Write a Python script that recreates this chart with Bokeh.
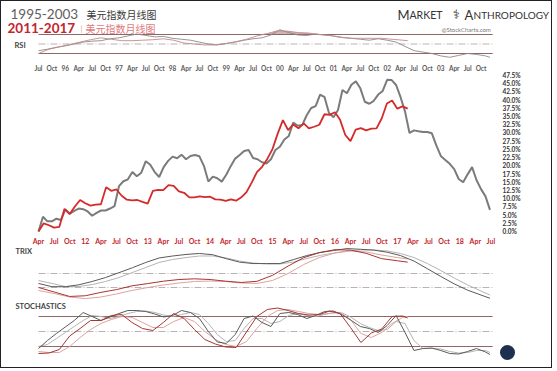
from bokeh.plotting import figure
from bokeh.models import Range1d, LinearAxis, FixedTicker, PrintfTickFormatter
from bokeh.layouts import column
from bokeh.embed import file_html
from bokeh.resources import INLINE
from bokeh.core.properties import value

# ---------------- data ----------------
GRAY_START = 1995.5    # Jul 1995 (1995-2003 cycle, gray)
RED_START = 2011.25    # Apr 2011 (2011-2017 cycle, red)

gray_pct = [0, 4.5, 3.1, 3.1, 3.9, 3.5, 6.7, 5.4, 6.3, 7.0,
            6.8, 6.1, 4.8, 5.7, 6.4, 6.4, 7.0, 7.7, 13.8, 15.3,
            15.9, 18.1, 16.8, 17.9, 21.4, 20.3, 18.1, 16.6, 19.6, 21.5,
            22.8, 22.3, 23.4, 22.0, 23.0, 23.3, 22.9, 20.0, 15.2, 16.7,
            16.2, 15.2, 17.3, 19.9, 22.2, 23.3, 24.5, 24.8, 22.4, 22.0,
            21.1, 20.7, 22.0, 24.8, 25.8, 28.0, 29.1, 33.2, 32.2, 32.4,
            35.4, 37.6, 38.2, 41.7, 40.9, 36.0, 34.8, 37.0, 43.1, 42.1,
            44.7, 45.7, 43.6, 39.5, 38.9, 39.8, 41.7, 42.8, 46.2, 46.1,
            44.6, 40.9, 36.5, 30.0, 30.8, 30.5, 30.3, 30.3, 29.9, 26.2,
            23.0, 21.8, 20.6, 19.0, 16.0, 15.0, 17.4, 19.6, 15.6, 12.9,
            10.7, 6.6]

red_pct = [0, 2.5, 1.9, 1.2, 1.4, 6.9, 5.3, 7.6, 9.6, 8.6,
           7.9, 8.2, 8.3, 13.5, 12.4, 12.8, 10.9, 9.7, 9.5, 9.6,
           9.0, 8.5, 12.4, 12.7, 12.6, 14.1, 13.9, 12.2, 11.8, 10.4,
           10.4, 10.7, 10.5, 10.6, 9.8, 9.7, 9.3, 9.8, 9.4, 10.4,
           12.0, 14.9, 18.1, 19.7, 22.1, 25.1, 29.8, 33.9, 30.9, 32.6,
           31.4, 32.9, 31.4, 31.9, 32.5, 35.7, 35.5, 36.3, 34.0, 29.4,
           27.5, 31.0, 31.5, 30.8, 31.3, 31.4, 34.4, 39.0, 39.9, 37.4,
           38.1, 37.4]

# sample months (offset from each cycle start) of the indicator readings
gray_q_months = list(range(0, 100, 3)) + [101]
red_q_months = list(range(0, 70, 3)) + [71]
gray_b_months = list(range(0, 101, 2)) + [101]
red_b_months = list(range(0, 71, 2)) + [71]

trix_gray = [-0.71, -0.94, -0.94, -0.81, -0.57, -0.29, 0.06, 0.41, 0.79, 1.11,
             1.25, 1.36, 1.43, 1.34, 1.06, 0.81, 0.71, 0.71, 0.71, 0.99,
             1.28, 1.5, 1.64, 1.78, 1.73, 1.67, 1.52, 1.28, 0.89, 0.34,
             -0.21, -0.74, -1.19, -1.54, -1.77]
trix_gray_sig = [-0.5, -0.71, -0.93, -0.93, -0.79, -0.57, -0.29, 0.07, 0.43, 0.79,
                 1.0, 1.14, 1.25, 1.25, 1.11, 0.89, 0.75, 0.68, 0.68, 0.82,
                 1.07, 1.29, 1.46, 1.61, 1.68, 1.68, 1.61, 1.43, 1.14, 0.71,
                 0.21, -0.32, -0.82, -1.25, -1.54]
trix_red = [-1.0, -1.32, -1.64, -1.59, -1.35, -1.15, -0.88, -0.72, -0.55, -0.43,
            -0.38, -0.43, -0.55, -0.64, -0.56, -0.13, 0.53, 1.13, 1.49, 1.7,
            1.67, 1.44, 1.06, 0.91, 0.81]
trix_red_sig = [-1.21, -1.43, -1.68, -1.79, -1.68, -1.46, -1.21, -1.0, -0.82, -0.68,
                -0.57, -0.54, -0.57, -0.68, -0.71, -0.5, 0.0, 0.64, 1.14, 1.46,
                1.61, 1.54, 1.32, 1.14, 1.04]

stoch_gray = [16, 32, 46, 59, 72, 88, 80, 72, 79, 86,
              92, 92, 90, 85, 79, 82, 92, 88, 76, 50,
              29, 26, 44, 76, 81, 68, 60, 86, 88, 84,
              76, 82, 90, 91, 83, 72, 60, 56, 48, 62,
              82, 48, 12, 16, 17, 12, 6, 5, 10, 16,
              9, 4]
stoch_gray_sig = [20, 24, 36, 48, 60, 72, 82, 80, 76, 80,
                  86, 90, 91, 88, 83, 80, 84, 88, 84, 66,
                  44, 30, 32, 56, 76, 76, 66, 70, 82, 86,
                  82, 80, 84, 88, 87, 78, 66, 58, 52, 54,
                  70, 66, 32, 16, 16, 15, 10, 7, 8, 12,
                  12, 8]
stoch_red = [6, 7, 14, 41, 56, 72, 72, 82, 84, 68,
             56, 52, 68, 86, 76, 54, 34, 25, 19, 18,
             49, 80, 94, 97, 92, 86, 83, 84, 91, 86,
             58, 28, 47, 55, 80, 81, 77]
stoch_red_sig = [10, 8, 8, 20, 38, 54, 66, 74, 80, 78,
                 68, 58, 58, 70, 78, 70, 50, 34, 24, 20,
                 30, 56, 80, 92, 94, 90, 86, 84, 86, 88,
                 74, 46, 38, 48, 66, 78, 80]

rsi_gray = [36, 39, 43, 46, 50, 54, 56, 57, 61, 63,
            67, 71, 68, 65, 66, 62, 60, 58, 54, 50,
            48, 51, 54, 58, 61, 63, 69, 80, 74, 69,
            68, 71, 69, 67, 64, 62, 60, 58, 61, 58,
            54, 45, 36, 33, 30, 25, 22, 26, 30, 28,
            25, 22]
rsi_red = [30, 39, 44, 49, 54, 59, 63, 60, 57, 57,
           58, 59, 61, 58, 52, 50, 48, 48, 51, 55,
           60, 67, 72, 78, 77, 74, 73, 70, 68, 64,
           62, 62, 62, 62, 60, 58, 57]

rsi_levels = [70, 50, 30]
trix_levels = [0, -1]
stoch_levels = [80, 50, 20]

pct_ticks = [0.0, 2.5, 5.0, 7.5, 10.0, 12.5, 15.0, 17.5, 20.0, 22.5,
             25.0, 27.5, 30.0, 32.5, 35.0, 37.5, 40.0, 42.5, 45.0, 47.5]
top_labels = ["Jul", "Oct", "96", "Apr", "Jul", "Oct", "97", "Apr", "Jul", "Oct",
              "98", "Apr", "Jul", "Oct", "99", "Apr", "Jul", "Oct", "00", "Apr",
              "Jul", "Oct", "01", "Apr", "Jul", "Oct", "02", "Apr", "Jul", "Oct",
              "03", "Apr", "Jul", "Oct"]
bottom_labels = ["Apr", "Jul", "Oct", "12", "Apr", "Jul", "Oct", "13", "Apr", "Jul",
                 "Oct", "14", "Apr", "Jul", "Oct", "15", "Apr", "Jul", "Oct", "16",
                 "Apr", "Jul", "Oct", "17", "Apr", "Jul", "Oct", "18", "Apr", "Jul"]

# ---------------- geometry helpers (page pixel coordinates) ----------------
ANCHOR_PX = 38          # page x of the first month of both cycles
GRAY_PPY = 53.64        # page px per year, gray cycle
RED_PPY = 62.4          # page px per year, red cycle
LEFT, RIGHT = 1, 551    # page x of figure edges (inside a 1px border)
W = RIGHT - LEFT
FRAME_R = 495           # right edge of the price frame


def trange(anchor, ppy, left, right):
    return Range1d(anchor - (ANCHOR_PX - left) / ppy, anchor + (right - ANCHOR_PX) / ppy)


def vrange(v_a, px_a, ppu, top, bottom):
    return Range1d(v_a - (bottom - px_a) / ppu, v_a + (px_a - top) / ppu)


def gx(months):
    return [GRAY_START + m / 12 for m in months]


def rx(months):
    return [RED_START + m / 12 for m in months]


FONT = value("Lato")


def pix_fig(top, bottom):
    p = figure(width=W, height=bottom - top, x_range=Range1d(LEFT, RIGHT),
               y_range=Range1d(bottom, top), output_backend="svg",
               toolbar_location=None, min_border=0, x_axis_location=None,
               y_axis_location=None, title=None, frame_align=False)
    for g in p.grid:
        g.visible = False
    p.outline_line_color = None
    p.extra_x_ranges = {"gray": trange(GRAY_START, GRAY_PPY, LEFT, RIGHT),
                        "red": trange(RED_START, RED_PPY, LEFT, RIGHT)}
    return p


def txt(p, x, y, s, size, color, font=FONT, style="normal", align="left"):
    p.text(x=[x], y=[y], text=[s], text_font=font, text_font_size=size,
           text_color=color, text_font_style=style, text_baseline="middle",
           text_align=align)


def hline(p, level, yname, color, dash="solid", width=1.0):
    xs = gx([0, len(gray_pct) - 1])
    p.line(x=[xs[0], xs[1] + 0.05], y=[level, level], x_range_name="gray",
           y_range_name=yname, line_color=color, line_dash=dash, line_width=width)


GRAY_MAIN = "#7b7b7b"
RED_MAIN = "#d42a2a"
G_DARK, G_LIGHT = "#5a5a5a", "#b4b4b4"
R_DARK, R_LIGHT = "#a8352f", "#dca3a0"
LVL = "#8f6767"
DASHDOT = "7 2 1 2"

# ---------------- header + RSI ----------------
A_TOP, A_BOT = 1, 58
pa = pix_fig(A_TOP, A_BOT)
pa.extra_y_ranges = {"rsi": vrange(50, 43.5, 0.475, A_TOP, A_BOT)}
txt(pa, 10, 13.5, "1995-2003", "13.5px", "#5e5e5e")
txt(pa, 7, 27.5, "2011-2017", "13.5px", "#c4252b", style="bold")
txt(pa, 86, 13.5, "美元指数月线图", "10px", "#3a3a3a", font=value("Noto Sans CJK SC"))
txt(pa, 85, 28, "美元指数月线图", "10px", "#e07a7a", font=value("Noto Sans CJK SC"))
txt(pa, 80, 28, "|", "8px", "#e8a0a0")
txt(pa, 397, 14, "M", "13px", "#333333")
txt(pa, 409, 14.7, "ARKET", "10.5px", "#333333")
txt(pa, 452, 14, "⚕", "13px", "#333333", font=value("DejaVu Sans"))
txt(pa, 464, 14, "A", "13px", "#333333")
txt(pa, 473, 14.7, "NTHROPOLOGY", "10px", "#333333")
txt(pa, 441, 29, "@StockCharts.com", "6px", "#777777")
txt(pa, 14, 45, "RSI", "7.5px", "#444444", style="bold")

pa.varea(x=rx(red_b_months), y1=[70] * len(rsi_red),
         y2=[max(v, 70) for v in rsi_red], x_range_name="red", y_range_name="rsi",
         fill_color="#c99a97", fill_alpha=0.8)
pa.varea(x=gx(gray_b_months), y1=[70] * len(rsi_gray),
         y2=[max(v, 70) for v in rsi_gray], x_range_name="gray", y_range_name="rsi",
         fill_color="#d2b4b2", fill_alpha=0.8)
hline(pa, rsi_levels[0], "rsi", LVL, width=1.1)
hline(pa, rsi_levels[1], "rsi", "#b0a0a0", dash=DASHDOT, width=0.8)
hline(pa, rsi_levels[2], "rsi", LVL, width=1.1)
pa.line(gx(gray_b_months), rsi_gray, x_range_name="gray", y_range_name="rsi",
        line_color="#8a8a8a", line_width=0.9)
pa.line(rx(red_b_months), rsi_red, x_range_name="red", y_range_name="rsi",
        line_color="#c08a88", line_width=0.9)

# ---------------- main price panel ----------------
B_TOP, B_BOT = 58, 247
F_TOP, F_BOT = 73, 235
pb = figure(width=W, height=B_BOT - B_TOP,
            x_range=trange(RED_START, RED_PPY, LEFT, FRAME_R),
            y_range=vrange(0, 232, 3.305, F_TOP, F_BOT),
            output_backend="svg", toolbar_location=None,
            min_border_left=0, min_border_right=RIGHT - FRAME_R,
            min_border_top=F_TOP - B_TOP, min_border_bottom=B_BOT - F_BOT,
            x_axis_location=None, y_axis_location=None, title=None,
            frame_align=False)
for g in pb.grid:
    g.visible = False
pb.outline_line_color = None
pb.extra_x_ranges = {"gray": trange(GRAY_START, GRAY_PPY, LEFT, FRAME_R)}


def style_axis(ax, color, size, standoff):
    ax.axis_line_color = None
    ax.major_tick_line_color = None
    ax.minor_tick_line_color = None
    ax.major_tick_out = 0
    ax.major_tick_in = 0
    ax.major_label_text_font = "Lato"
    ax.major_label_text_font_style = "bold"
    ax.major_label_text_font_size = size
    ax.major_label_text_color = color
    ax.major_label_standoff = standoff


bottom_ticks = [RED_START + 0.25 * i for i in range(len(bottom_labels))]
top_ticks = [GRAY_START + 0.25 * i for i in range(len(top_labels))]

ax_b = LinearAxis(ticker=FixedTicker(ticks=bottom_ticks),
                  major_label_overrides=dict(zip(bottom_ticks, bottom_labels)))
style_axis(ax_b, "#c4252b", "7px", 2)
pb.add_layout(ax_b, "below")

ax_t = LinearAxis(x_range_name="gray", ticker=FixedTicker(ticks=top_ticks),
                  major_label_overrides=dict(zip(top_ticks, top_labels)))
style_axis(ax_t, "#5a5a5a", "6.5px", 2)
pb.add_layout(ax_t, "above")

ax_r = LinearAxis(ticker=FixedTicker(ticks=pct_ticks),
                  formatter=PrintfTickFormatter(format="%.1f%%"))
style_axis(ax_r, "#333333", "6.5px", 7)
pb.add_layout(ax_r, "right")

pb.line(gx(range(len(gray_pct))), gray_pct, x_range_name="gray",
        line_color=GRAY_MAIN, line_width=2)
pb.line(rx(range(len(red_pct))), red_pct, line_color=RED_MAIN, line_width=1.8)

# ---------------- TRIX ----------------
C_TOP, C_BOT = 247, 300
pc = pix_fig(C_TOP, C_BOT)
pc.extra_y_ranges = {"trix": vrange(0, 273, 14, C_TOP, C_BOT)}
txt(pc, 15, 251, "TRIX", "7.5px", "#444444", style="bold")
for lv in trix_levels:
    hline(pc, lv, "trix", "#a9a0a0", dash=DASHDOT, width=0.8)
pc.line(gx(gray_q_months), trix_gray_sig, x_range_name="gray", y_range_name="trix",
        line_color=G_LIGHT, line_width=1)
pc.line(rx(red_q_months), trix_red_sig, x_range_name="red", y_range_name="trix",
        line_color=R_LIGHT, line_width=1)
pc.line(gx(gray_q_months), trix_gray, x_range_name="gray", y_range_name="trix",
        line_color=G_DARK, line_width=1)
pc.line(rx(red_q_months), trix_red, x_range_name="red", y_range_name="trix",
        line_color=R_DARK, line_width=1)

# ---------------- Stochastics ----------------
D_TOP, D_BOT = 300, 367
pd_ = pix_fig(D_TOP, D_BOT)
pd_.extra_y_ranges = {"stoch": vrange(50, 331, 0.5, D_TOP, D_BOT)}
txt(pd_, 15, 306, "STOCHASTICS", "7.5px", "#444444", style="bold")
hline(pd_, stoch_levels[0], "stoch", LVL, width=1.1)
hline(pd_, stoch_levels[1], "stoch", "#a9a0a0", dash=DASHDOT, width=0.8)
hline(pd_, stoch_levels[2], "stoch", LVL, width=1.1)
pd_.line(gx(gray_b_months), stoch_gray_sig, x_range_name="gray", y_range_name="stoch",
         line_color=G_LIGHT, line_width=1)
pd_.line(rx(red_b_months), stoch_red_sig, x_range_name="red", y_range_name="stoch",
         line_color=R_LIGHT, line_width=1)
pd_.line(gx(gray_b_months), stoch_gray, x_range_name="gray", y_range_name="stoch",
         line_color=G_DARK, line_width=1)
pd_.line(rx(red_b_months), stoch_red, x_range_name="red", y_range_name="stoch",
         line_color=R_DARK, line_width=1)
pd_.scatter(x=[507], y=[352], size=15, marker="circle", fill_color="#1f2f4f",
            line_color=None)

layout = column(pa, pb, pc, pd_, spacing=0,
                styles={"border": "1px solid #222222"})

open("out.html", "w").write(file_html(layout, INLINE))
